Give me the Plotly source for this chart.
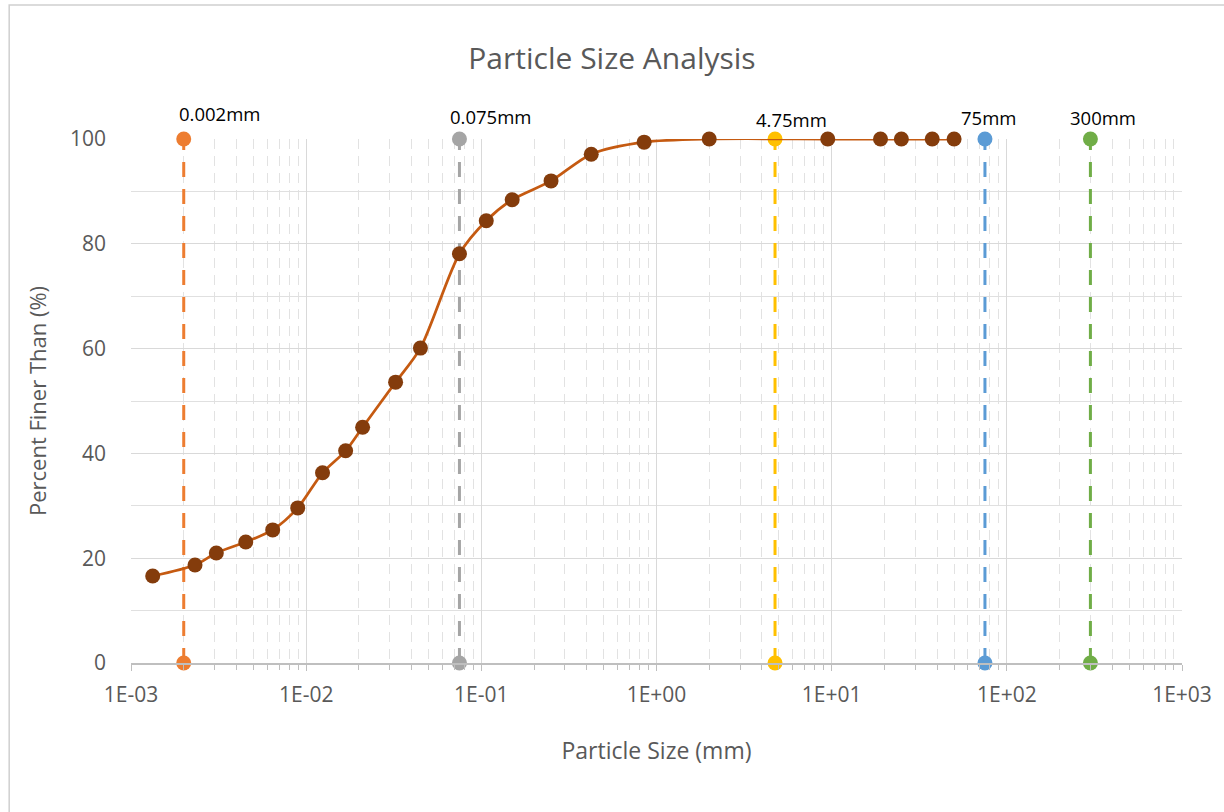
import math
import plotly.graph_objects as go

# ---- data ----
size_mm = [0.00133, 0.00232, 0.00307, 0.00452, 0.00644, 0.00895, 0.0124, 0.0168,
           0.021, 0.0324, 0.0449, 0.075, 0.1067, 0.150, 0.25, 0.424, 0.85,
           2.0, 9.5, 19.0, 25.0, 37.5, 50.0]
percent_finer = [16.6, 18.7, 21.0, 23.1, 25.4, 29.6, 36.3, 40.5,
                 45.0, 53.6, 60.1, 78.1, 84.4, 88.4, 92.0, 97.1, 99.4,
                 100, 100, 100, 100, 100, 100]

limit_sizes = [0.002, 0.075, 4.75, 75, 300]
limit_labels = ["0.002mm", "0.075mm", "4.75mm", "75mm", "300mm"]
limit_colors = ["#ED7D31", "#A5A5A5", "#FFC000", "#5B9BD5", "#70AD47"]
limit_ybounds = [0, 100]

x_tickvals = [1e-3, 1e-2, 1e-1, 1e0, 1e1, 1e2, 1e3]
x_ticktext = ["1E-03", "1E-02", "1E-01", "1E+00", "1E+01", "1E+02", "1E+03"]

# label offsets (px) for the limit line labels
label_xshift = [36, 31, 16, 4, 13]
label_yshift = [26, 23, 20, 22, 22]

FONT = "Open Sans"
TXT = "#595959"

fig = go.Figure()

for xs, col in zip(limit_sizes, limit_colors):
    fig.add_trace(go.Scatter(
        x=[xs, xs], y=limit_ybounds, mode="lines+markers",
        line=dict(color=col, width=3, dash="15px,12px"),
        marker=dict(color=col, size=15),
        cliponaxis=False, showlegend=False, hoverinfo="skip"))

fig.add_trace(go.Scatter(
    x=size_mm, y=percent_finer, mode="lines+markers",
    line=dict(color="#C55A11", width=2.75, shape="spline", smoothing=0.8),
    marker=dict(color="#843C0C", size=15),
    cliponaxis=False, showlegend=False))

for xs, lab, dx, dy in zip(limit_sizes, limit_labels, label_xshift, label_yshift):
    fig.add_annotation(x=math.log10(xs), y=100, text=lab, showarrow=False,
                       xshift=dx, yshift=dy,
                       font=dict(family=FONT, size=18.5, color="#000000"))

# chart frame
fig.add_shape(type="rect", xref="paper", yref="paper",
              x0=-0.1159, x1=1.3, y0=-0.6, y1=1.2557,
              line=dict(color="#D0D0D0", width=1.5), layer="below")

fig.update_layout(
    width=1224, height=812,
    margin=dict(l=131, r=40, t=139, b=149),
    paper_bgcolor="white", plot_bgcolor="white",
    font=dict(family=FONT, color=TXT),
    title=dict(text="Particle Size Analysis", x=0.5, xanchor="center",
               y=1 - 58 / 812, yanchor="middle",
               font=dict(family=FONT, size=30, color=TXT)),
    xaxis=dict(
        type="log", range=[-3, 3],
        tickvals=x_tickvals, ticktext=x_ticktext,
        showgrid=True, gridcolor="#D9D9D9", gridwidth=1,
        showline=True, linecolor="#BFBFBF", linewidth=1.5,
        ticks="outside", ticklen=6, tickcolor="#BFBFBF",
        ticklabelstandoff=6,
        tickfont=dict(family=FONT, size=21, color=TXT),
        minor=dict(dtick="D1", showgrid=True, gridcolor="#E2E2E2",
                   griddash="10px,7px", ticks="outside", ticklen=5,
                   tickcolor="#BFBFBF"),
        title=dict(text="Particle Size (mm)", standoff=36,
                   font=dict(family=FONT, size=23, color=TXT)),
        zeroline=False),
    yaxis=dict(
        range=[0, 100], dtick=20, tick0=0,
        showgrid=True, gridcolor="#D9D9D9", gridwidth=1,
        showline=False, ticks="",
        ticklabelstandoff=24,
        tickfont=dict(family=FONT, size=21, color=TXT),
        minor=dict(dtick=10, showgrid=True, gridcolor="#E0E0E0"),
        title=dict(text="Percent Finer Than (%)", standoff=17,
                   font=dict(family=FONT, size=22, color=TXT)),
        zeroline=False),
)

fig.write_html("out.html", config={"displayModeBar": False},
               post_script="document.body.style.margin='0';document.body.style.padding='0';")
